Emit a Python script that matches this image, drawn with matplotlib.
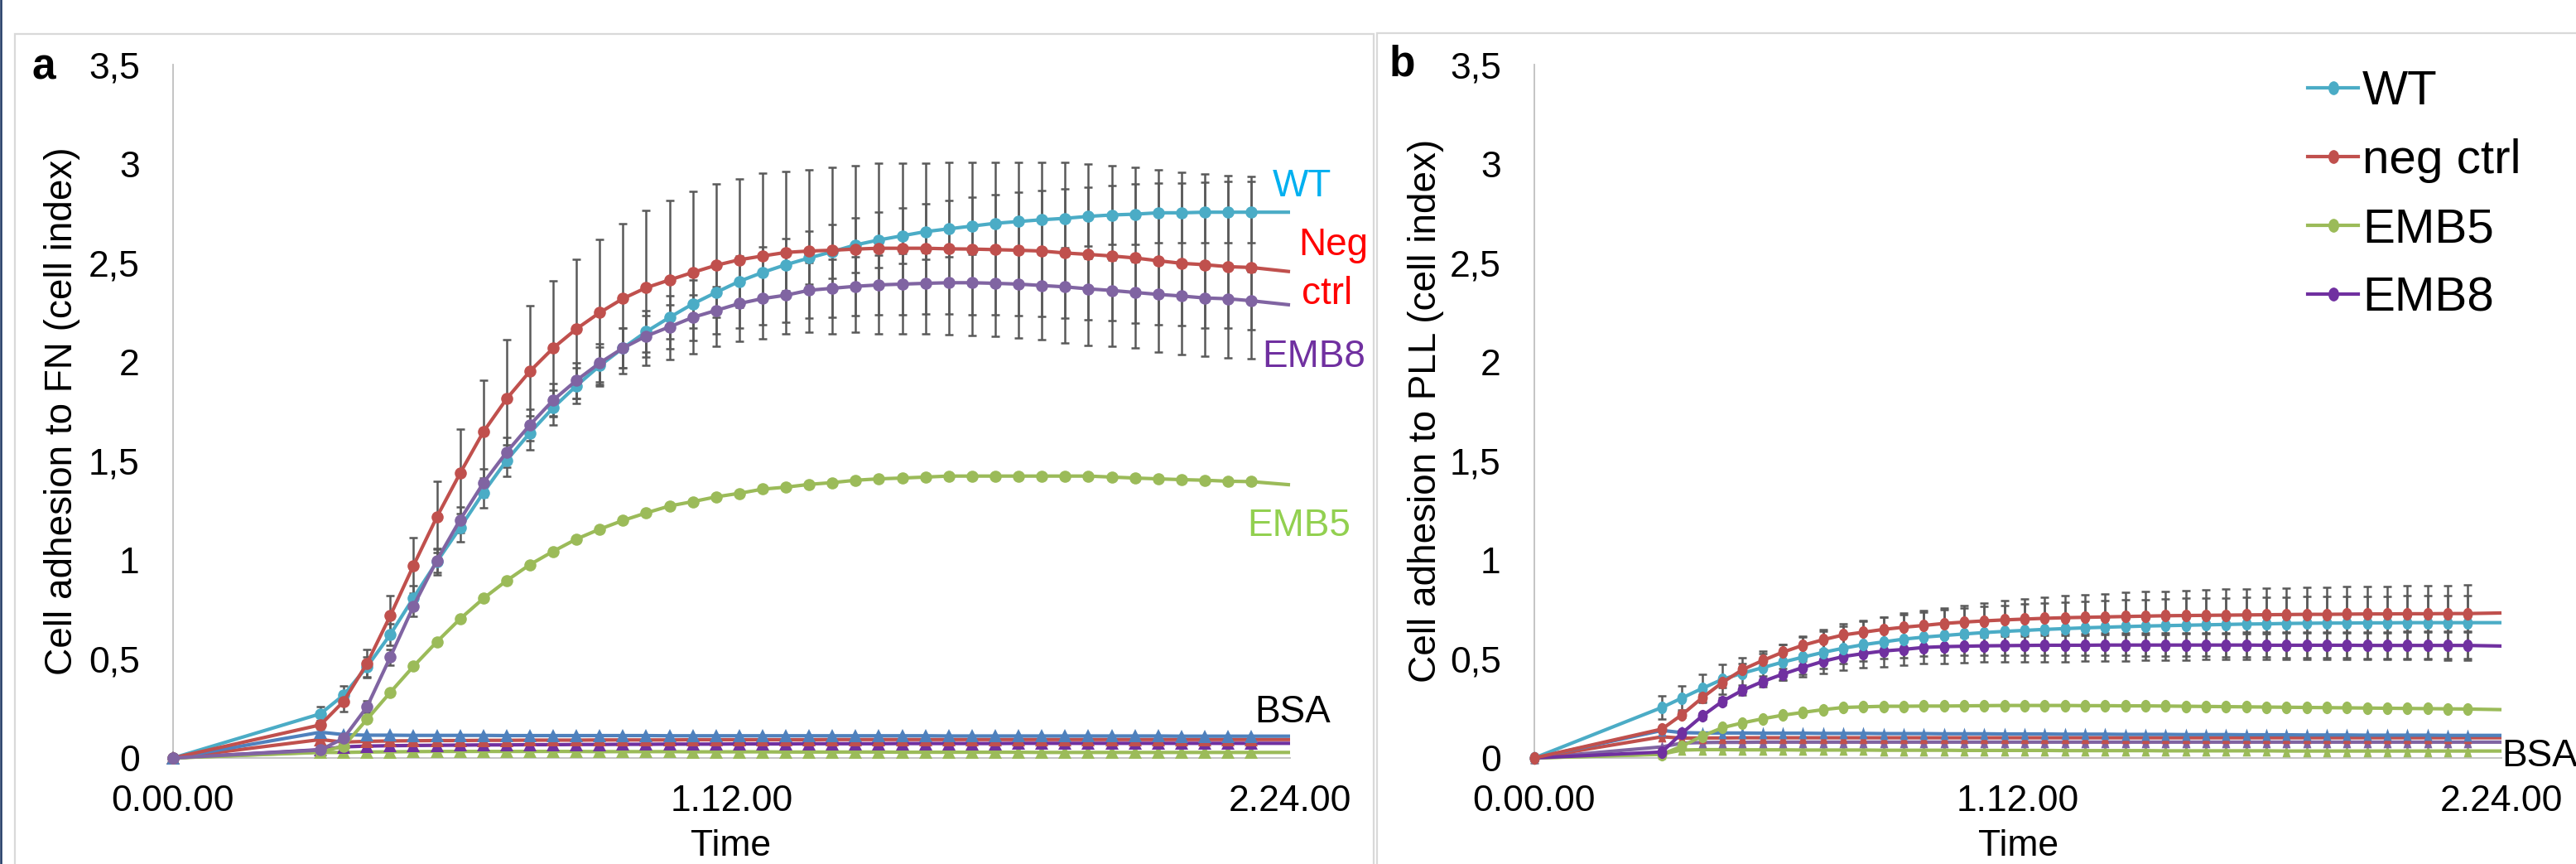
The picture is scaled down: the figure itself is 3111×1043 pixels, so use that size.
import matplotlib
matplotlib.use('Agg')
import matplotlib.pyplot as plt
from matplotlib.path import Path
from matplotlib.patches import Rectangle
from matplotlib.lines import Line2D

plt.rcParams['font.family'] = ['Liberation Sans', 'DejaVu Sans']

# ---------------- data ----------------
times = [0, 19, 22, 25, 28, 31, 34, 37, 40, 43, 46, 49, 52, 55, 58, 61, 64, 67, 70, 73,
         76, 79, 82, 85, 88, 91, 94, 97, 100, 103, 106, 109, 112, 115, 118, 121, 124,
         127, 130, 133, 136, 139, 144]
x_ticks = [0, 72, 144]
x_ticklabels = ['0.00.00', '1.12.00', '2.24.00']
y_ticks = [0, 0.5, 1, 1.5, 2, 2.5, 3, 3.5]
y_ticklabels = ['0', '0,5', '1', '1,5', '2', '2,5', '3', '3,5']
legend_labels = ['WT', 'neg ctrl', 'EMB5', 'EMB8']

# panel a (FN)
wt_fn = [0, 0.223, 0.318, 0.460, 0.623, 0.809, 0.990, 1.162, 1.339, 1.502, 1.641, 1.768, 1.879,
         1.980, 2.069, 2.152, 2.224, 2.292, 2.350, 2.406, 2.451, 2.490, 2.524, 2.556, 2.590,
         2.615, 2.636, 2.657, 2.671, 2.685, 2.699, 2.708, 2.717, 2.724, 2.734, 2.741, 2.745,
         2.752, 2.752, 2.755, 2.755, 2.755, 2.755]
neg_fn = [0, 0.167, 0.286, 0.477, 0.718, 0.972, 1.216, 1.437, 1.646, 1.813, 1.952, 2.069, 2.166,
          2.248, 2.319, 2.374, 2.413, 2.451, 2.487, 2.515, 2.534, 2.552, 2.559, 2.563, 2.569,
          2.573, 2.573, 2.573, 2.570, 2.569, 2.566, 2.563, 2.559, 2.549, 2.542, 2.534, 2.524,
          2.510, 2.497, 2.490, 2.480, 2.476, 2.455]
emb8_fn = [0, 0.040, 0.100, 0.258, 0.509, 0.767, 0.997, 1.202, 1.388, 1.544, 1.681, 1.806, 1.906,
           1.994, 2.069, 2.130, 2.176, 2.224, 2.259, 2.294, 2.319, 2.336, 2.361, 2.371, 2.381,
           2.388, 2.392, 2.396, 2.399, 2.399, 2.396, 2.392, 2.385, 2.378, 2.368, 2.360, 2.350,
           2.340, 2.332, 2.322, 2.318, 2.308, 2.287]
emb5_fn = [0, 0.030, 0.060, 0.195, 0.331, 0.463, 0.586, 0.702, 0.805, 0.895, 0.976, 1.043, 1.105,
           1.155, 1.199, 1.237, 1.272, 1.294, 1.318, 1.336, 1.357, 1.367, 1.381, 1.390, 1.402,
           1.409, 1.413, 1.418, 1.423, 1.423, 1.423, 1.423, 1.423, 1.423, 1.423, 1.418, 1.413,
           1.409, 1.405, 1.402, 1.397, 1.395, 1.379]
bsa_wt_fn = [0, 0.130, 0.118, 0.115, 0.115, 0.114, 0.114, 0.114, 0.114, 0.113, 0.113, 0.113, 0.113,
             0.113, 0.113, 0.113, 0.112, 0.112, 0.112, 0.112, 0.112, 0.112, 0.112, 0.112, 0.112,
             0.112, 0.112, 0.112, 0.111, 0.111, 0.111, 0.111, 0.111, 0.111, 0.111, 0.111, 0.111,
             0.111, 0.110, 0.110, 0.110, 0.110, 0.110]
bsa_neg_fn = [0, 0.093, 0.080, 0.084, 0.086, 0.087, 0.088, 0.088, 0.089, 0.089, 0.090, 0.090, 0.090,
              0.091, 0.091, 0.091, 0.091, 0.092, 0.092, 0.092, 0.092, 0.092, 0.092, 0.093, 0.093,
              0.093, 0.093, 0.093, 0.093, 0.093, 0.093, 0.093, 0.093, 0.093, 0.093, 0.093, 0.093,
              0.093, 0.093, 0.093, 0.093, 0.093, 0.093]
bsa_emb8_fn = [0, 0.042, 0.056, 0.060, 0.062, 0.063, 0.064, 0.065, 0.066, 0.066, 0.067, 0.067, 0.068,
               0.068, 0.069, 0.069, 0.070, 0.070, 0.070, 0.071, 0.071, 0.071, 0.072, 0.072, 0.072,
               0.072, 0.073, 0.073, 0.073, 0.073, 0.073, 0.074, 0.074, 0.074, 0.074, 0.074, 0.074,
               0.074, 0.074, 0.074, 0.074, 0.074, 0.074]
bsa_emb5_fn = [0, 0.028, 0.028, 0.030, 0.031, 0.032, 0.033, 0.033, 0.033, 0.033, 0.033, 0.033, 0.033,
               0.032, 0.032, 0.032, 0.032, 0.031, 0.031, 0.031, 0.031, 0.030, 0.030, 0.030, 0.030,
               0.030, 0.029, 0.029, 0.029, 0.029, 0.029, 0.029, 0.028, 0.028, 0.028, 0.028, 0.028,
               0.028, 0.028, 0.028, 0.028, 0.028, 0.028]
# error bars (t = 19 .. 139)
err_wt_fn = [0.035, 0.045, 0.05, 0.055, 0.06, 0.065, 0.07, 0.075, 0.08, 0.085, 0.088, 0.09, 0.095,
             0.10, 0.105, 0.11, 0.12, 0.125, 0.13, 0.13, 0.132, 0.134, 0.136, 0.138, 0.14, 0.14,
             0.14, 0.142, 0.144, 0.145, 0.146, 0.147, 0.148, 0.149, 0.15, 0.151, 0.152, 0.152,
             0.153, 0.154, 0.154]
err_neg_fn = [0.02, 0.05, 0.07, 0.10, 0.14, 0.18, 0.225, 0.26, 0.30, 0.33, 0.34, 0.35, 0.37, 0.38,
              0.39, 0.40, 0.41, 0.41, 0.41, 0.42, 0.41, 0.41, 0.42, 0.42, 0.43, 0.43, 0.43, 0.435,
              0.436, 0.439, 0.442, 0.446, 0.456, 0.458, 0.456, 0.456, 0.46, 0.46, 0.46, 0.46, 0.46]
err_emb8_fn = [0.01, 0.02, 0.03, 0.04, 0.05, 0.06, 0.065, 0.07, 0.075, 0.08, 0.085, 0.09, 0.095,
               0.10, 0.105, 0.11, 0.115, 0.12, 0.125, 0.13, 0.135, 0.14, 0.145, 0.148, 0.15, 0.153,
               0.156, 0.158, 0.16, 0.16, 0.16, 0.158, 0.156, 0.155, 0.154, 0.153, 0.152, 0.151,
               0.15, 0.148, 0.146]
err_emb5_fn = [0.005, 0.005, 0.006, 0.006, 0.007, 0.007, 0.008, 0.008, 0.009, 0.009, 0.010, 0.010,
               0.010, 0.011, 0.011, 0.011, 0.011, 0.012, 0.012, 0.012, 0.012, 0.012, 0.012, 0.012,
               0.012, 0.012, 0.012, 0.012, 0.012, 0.012, 0.012, 0.012, 0.012, 0.012, 0.012, 0.012,
               0.012, 0.012, 0.012, 0.012, 0.012]

# panel b (PLL)
wt_pll = [0, 0.255, 0.303, 0.351, 0.397, 0.428, 0.456, 0.484, 0.509, 0.533, 0.554, 0.572, 0.586,
          0.600, 0.610, 0.618, 0.626, 0.633, 0.639, 0.644, 0.649, 0.653, 0.657, 0.660, 0.663,
          0.666, 0.668, 0.670, 0.672, 0.674, 0.676, 0.677, 0.679, 0.680, 0.681, 0.681, 0.682,
          0.682, 0.683, 0.683, 0.683, 0.683, 0.683]
neg_pll = [0, 0.146, 0.219, 0.304, 0.381, 0.446, 0.492, 0.534, 0.569, 0.597, 0.621, 0.635, 0.649,
           0.660, 0.669, 0.679, 0.686, 0.692, 0.697, 0.701, 0.705, 0.708, 0.710, 0.712, 0.714,
           0.716, 0.718, 0.719, 0.720, 0.721, 0.722, 0.723, 0.724, 0.725, 0.725, 0.726, 0.727,
           0.727, 0.728, 0.728, 0.729, 0.729, 0.732]
emb8_pll = [0, 0.030, 0.126, 0.212, 0.286, 0.342, 0.386, 0.423, 0.457, 0.488, 0.512, 0.527, 0.540,
            0.548, 0.558, 0.562, 0.564, 0.566, 0.567, 0.568, 0.569, 0.569, 0.569, 0.570, 0.570,
            0.570, 0.570, 0.570, 0.570, 0.570, 0.570, 0.569, 0.569, 0.569, 0.569, 0.569, 0.568,
            0.568, 0.568, 0.568, 0.568, 0.568, 0.565]
emb5_pll = [0, 0.018, 0.060, 0.110, 0.153, 0.177, 0.198, 0.216, 0.230, 0.244, 0.255, 0.258, 0.261,
            0.261, 0.262, 0.262, 0.263, 0.264, 0.265, 0.265, 0.265, 0.265, 0.264, 0.264, 0.263,
            0.263, 0.262, 0.261, 0.260, 0.259, 0.258, 0.257, 0.256, 0.255, 0.254, 0.253, 0.252,
            0.251, 0.250, 0.249, 0.248, 0.247, 0.244]
bsa_wt_pll = [0, 0.139, 0.128, 0.126, 0.126, 0.126, 0.125, 0.125, 0.125, 0.124, 0.124, 0.124, 0.123,
              0.123, 0.123, 0.122, 0.122, 0.122, 0.121, 0.121, 0.121, 0.120, 0.120, 0.120, 0.119,
              0.119, 0.119, 0.118, 0.118, 0.118, 0.117, 0.117, 0.117, 0.116, 0.116, 0.116, 0.115,
              0.115, 0.115, 0.115, 0.114, 0.114, 0.114]
bsa_neg_pll = [0, 0.107, 0.100, 0.101, 0.101, 0.102, 0.102, 0.102, 0.102, 0.102, 0.102, 0.102, 0.102,
               0.102, 0.102, 0.102, 0.102, 0.102, 0.102, 0.102, 0.102, 0.102, 0.102, 0.102, 0.102,
               0.102, 0.102, 0.102, 0.102, 0.102, 0.102, 0.102, 0.102, 0.102, 0.102, 0.102, 0.102,
               0.102, 0.102, 0.102, 0.102, 0.102, 0.102]
bsa_emb8_pll = [0, 0.056, 0.075, 0.078, 0.079, 0.079, 0.080, 0.080, 0.080, 0.080, 0.080, 0.080, 0.080,
                0.080, 0.080, 0.080, 0.080, 0.080, 0.080, 0.080, 0.080, 0.080, 0.080, 0.080, 0.080,
                0.080, 0.080, 0.080, 0.080, 0.080, 0.080, 0.080, 0.080, 0.080, 0.080, 0.080, 0.080,
                0.080, 0.080, 0.080, 0.080, 0.080, 0.080]
bsa_emb5_pll = [0, 0.020, 0.040, 0.042, 0.042, 0.041, 0.041, 0.041, 0.040, 0.040, 0.040, 0.040, 0.039,
                0.039, 0.039, 0.039, 0.038, 0.038, 0.038, 0.038, 0.038, 0.037, 0.037, 0.037, 0.037,
                0.037, 0.036, 0.036, 0.036, 0.036, 0.036, 0.036, 0.035, 0.035, 0.035, 0.035, 0.035,
                0.035, 0.035, 0.035, 0.035, 0.035, 0.035]
err_wt_pll = [0.058, 0.062, 0.07, 0.075, 0.08, 0.085, 0.09, 0.10, 0.105, 0.11, 0.118, 0.125, 0.13,
              0.135, 0.14, 0.145, 0.15, 0.155, 0.16, 0.163, 0.166, 0.168, 0.17, 0.172, 0.173, 0.174,
              0.175, 0.176, 0.177, 0.178, 0.179, 0.180, 0.181, 0.182, 0.183, 0.184, 0.185, 0.186,
              0.187, 0.188, 0.189]
err_neg_pll = [0.01, 0.015, 0.02, 0.025, 0.03, 0.035, 0.04, 0.045, 0.05, 0.055, 0.06, 0.062, 0.064,
               0.066, 0.068, 0.07, 0.072, 0.074, 0.076, 0.078, 0.08, 0.081, 0.082, 0.083, 0.084,
               0.085, 0.086, 0.087, 0.088, 0.088, 0.089, 0.089, 0.09, 0.09, 0.09, 0.09, 0.09, 0.09,
               0.09, 0.09, 0.09]
err_emb8_pll = [0.005, 0.01, 0.015, 0.02, 0.025, 0.028, 0.03, 0.033, 0.035, 0.037, 0.039, 0.04, 0.042,
                0.043, 0.044, 0.045, 0.046, 0.047, 0.048, 0.049, 0.05, 0.051, 0.052, 0.053, 0.054,
                0.055, 0.056, 0.057, 0.058, 0.059, 0.06, 0.061, 0.062, 0.063, 0.064, 0.065, 0.065,
                0.066, 0.066, 0.066, 0.066]

# ---------------- style ----------------
C_WT = '#4BACC6'
C_NEG = '#C0504D'
C_EMB5 = '#9BBB59'
C_LAV = '#8064A2'
C_PUR = '#7030A0'
C_BLUE = '#4F81BD'
C_ERR = '#595959'

W, H = 3111, 1043
fig = plt.figure(figsize=(W / 100, H / 100), dpi=100)
fig.patch.set_facecolor('white')


def px(x):
    return x / W


def py(y):
    return 1 - y / H


circ = Path.unit_circle()
ELL = Path(circ.vertices * [0.78, 1.0], circ.codes)
TRI_N = Path([(-0.62, -0.85), (0.62, -0.85), (0.0, 1.0), (-0.62, -0.85)],
             [Path.MOVETO, Path.LINETO, Path.LINETO, Path.CLOSEPOLY])

axL = fig.add_axes([px(209), py(915), px(1558) - px(209), py(78) - py(915)])
axR = fig.add_axes([px(1853), py(915), px(3021) - px(1853), py(78) - py(915)])

for ax in (axL, axR):
    ax.set_xlim(0, 144)
    ax.set_ylim(0, 3.5)
    ax.patch.set_alpha(0)
    for s in ('top', 'right'):
        ax.spines[s].set_visible(False)
    for s in ('left', 'bottom'):
        ax.spines[s].set_color('#BFBFBF')
        ax.spines[s].set_linewidth(1.3)
        ax.spines[s].set_zorder(1)
    ax.set_xticks(x_ticks, x_ticklabels)
    ax.set_yticks(y_ticks, y_ticklabels)
    ax.tick_params(length=0, labelsize=32, colors='black')
    ax.tick_params(axis='y', pad=29)
    ax.tick_params(axis='x', pad=23)

mk_idx = list(range(len(times) - 1))


def draw(ax, y, color, marker, ms, err=None, z=3, lw=3.0):
    if err is not None:
        ax.errorbar(times[1:-1], y[1:-1], yerr=err, fmt='none', ecolor=C_ERR,
                    elinewidth=1.8, capsize=3.8, capthick=1.8, zorder=2)
    ax.plot(times, y, color=color, lw=lw, marker=marker, ms=ms, markevery=mk_idx,
            markeredgewidth=0, zorder=z, clip_on=False, solid_capstyle='butt')


# panel a
draw(axL, bsa_emb5_fn, C_EMB5, '^', 11, z=3)
draw(axL, bsa_emb8_fn, C_PUR, '^', 11, z=3)
draw(axL, bsa_neg_fn, C_NEG, '^', 11, z=3)
draw(axL, bsa_wt_fn, C_BLUE, '^', 11, z=3)
draw(axL, emb5_fn, C_EMB5, 'o', 10.5, err=err_emb5_fn, z=4)
draw(axL, wt_fn, C_WT, 'o', 10.5, err=err_wt_fn, z=4)
draw(axL, neg_fn, C_NEG, 'o', 10.5, err=err_neg_fn, z=4)
draw(axL, emb8_fn, C_LAV, 'o', 10.5, err=err_emb8_fn, z=4)

# panel b
draw(axR, bsa_emb5_pll, C_EMB5, TRI_N, 11.5, z=3)
draw(axR, bsa_emb8_pll, C_LAV, TRI_N, 11.5, z=3)
draw(axR, bsa_neg_pll, C_NEG, TRI_N, 11.5, z=3)
draw(axR, bsa_wt_pll, C_BLUE, TRI_N, 11.5, z=3)
draw(axR, emb5_pll, C_EMB5, ELL, 11, z=4)
draw(axR, emb8_pll, C_PUR, ELL, 11, err=err_emb8_pll, z=4)
draw(axR, wt_pll, C_WT, ELL, 11, err=err_wt_pll, z=4)
draw(axR, neg_pll, C_NEG, ELL, 11, err=err_neg_pll, z=4)

# legend (panel b)
handles = [Line2D([], [], color=c, lw=3.0, marker=ELL, ms=12, mew=0)
           for c in (C_WT, C_NEG, C_EMB5, C_PUR)]
axR.legend(handles, legend_labels, loc='upper left', bbox_to_anchor=(px(2787), py(84)),
           bbox_transform=fig.transFigure, frameon=False, fontsize=42, handlelength=1.05,
           handletextpad=0.08, labelspacing=0.5, borderpad=0, borderaxespad=0)

# axis titles
fig.text(px(75), py(496), 'Cell adhesion to FN (cell index)', rotation=90, fontsize=33,
         ha='center', va='center')
fig.text(px(1722), py(496), 'Cell adhesion to PLL (cell index)', rotation=90, fontsize=33,
         ha='center', va='center')
fig.text(px(883), py(1042), 'Time', fontsize=32, ha='center', va='bottom')
fig.text(px(2438), py(1042), 'Time', fontsize=32, ha='center', va='bottom')

# panel letters
fig.text(px(38), py(95), 'a', fontsize=37, fontweight='bold', ha='left', va='baseline')
fig.text(px(1678), py(92), 'b', fontsize=37, fontweight='bold', ha='left', va='baseline')

# series annotations (panel a)
fig.text(px(1537), py(237), 'WT', color='#00B0F0', fontsize=33, ha='left', va='baseline')
fig.text(px(1568), py(308), 'Neg', color='#FF0000', fontsize=33, ha='left', va='baseline')
fig.text(px(1572), py(367), 'ctrl', color='#FF0000', fontsize=33, ha='left', va='baseline')
fig.text(px(1524), py(443), 'EMB8', color=C_PUR, fontsize=33, ha='left', va='baseline')
fig.text(px(1506), py(647), 'EMB5', color='#92D050', fontsize=33, ha='left', va='baseline')
fig.text(px(1515), py(872), 'BSA', color='black', fontsize=33, ha='left', va='baseline')
fig.text(px(3021), py(925), 'BSA', color='black', fontsize=33, ha='left', va='baseline')

# panel frames and left edge
fig.add_artist(Rectangle((px(18), py(1100)), px(1659) - px(18), py(41) - py(1100), fill=False,
                         edgecolor='#D9D9D9', lw=1.6, transform=fig.transFigure))
fig.add_artist(Rectangle((px(1663), py(1100)), px(3300) - px(1663), py(40) - py(1100), fill=False,
                         edgecolor='#D9D9D9', lw=1.6, transform=fig.transFigure))
fig.add_artist(Line2D([px(1.2), px(1.2)], [0, 1], color='#1F3864', lw=1.8,
                      transform=fig.transFigure))

fig.savefig('out.png', dpi=100, facecolor='white')
